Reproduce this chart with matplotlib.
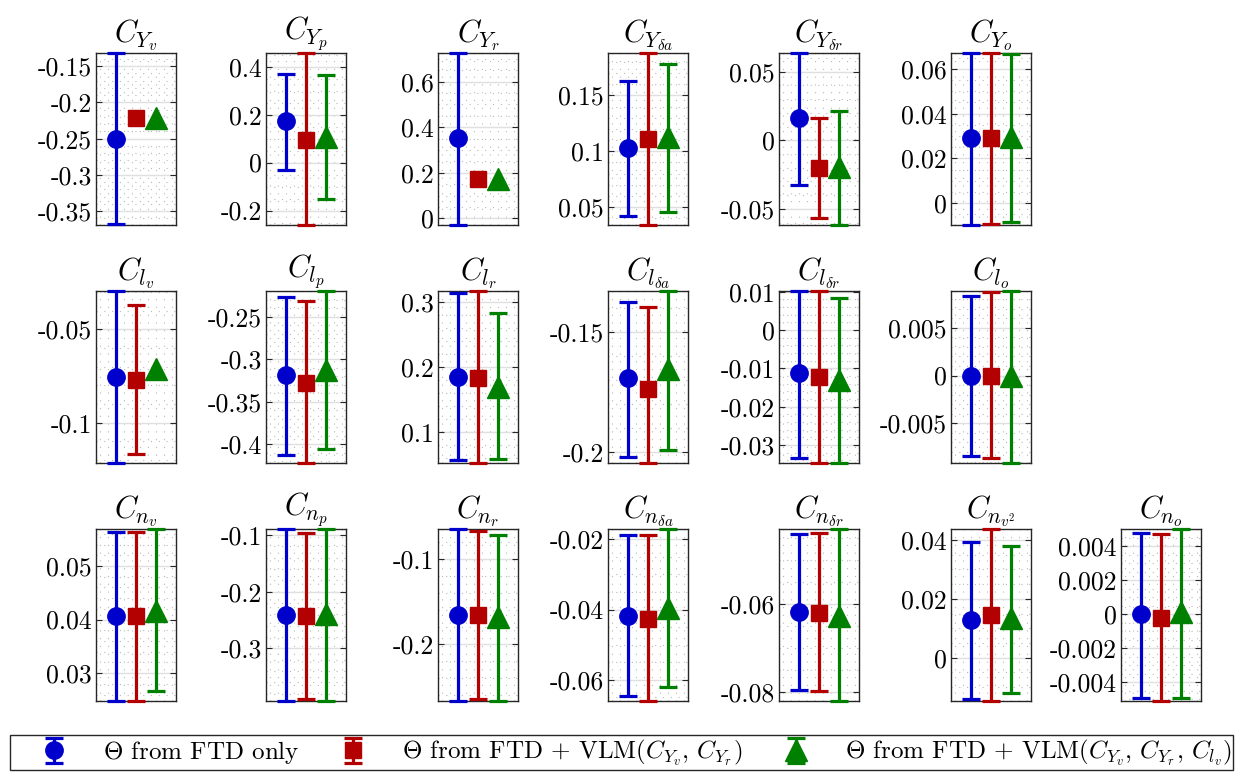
import numpy as np
import matplotlib
matplotlib.use('Agg')
import matplotlib.pyplot as plt
from matplotlib.patches import Rectangle
from matplotlib.ticker import AutoMinorLocator, FixedLocator

plt.rcParams['font.family'] = 'cmr10'
plt.rcParams['mathtext.fontset'] = 'cm'
plt.rcParams['axes.unicode_minus'] = False
plt.rcParams['axes.formatter.use_mathtext'] = True

nan = np.nan

titles = [r'$C_{Y_v}$', r'$C_{Y_p}$', r'$C_{Y_r}$', r'$C_{Y_{\delta a}}$', r'$C_{Y_{\delta r}}$', r'$C_{Y_o}$',
          r'$C_{l_v}$', r'$C_{l_p}$', r'$C_{l_r}$', r'$C_{l_{\delta a}}$', r'$C_{l_{\delta r}}$', r'$C_{l_o}$',
          r'$C_{n_v}$', r'$C_{n_p}$', r'$C_{n_r}$', r'$C_{n_{\delta a}}$', r'$C_{n_{\delta r}}$', r'$C_{n_{v^2}}$',
          r'$C_{n_o}$']

# grid slot (row, col) of each subplot
slots = [(0, 0), (0, 1), (0, 2), (0, 3), (0, 4), (0, 5),
         (1, 0), (1, 1), (1, 2), (1, 3), (1, 4), (1, 5),
         (2, 0), (2, 1), (2, 2), (2, 3), (2, 4), (2, 5), (2, 6)]

ylims = [(-0.369, -0.132), (-0.26, 0.457), (-0.029, 0.726), (0.034, 0.188), (-0.0617, 0.0636), (-0.0097, 0.0671),
         (-0.1216, -0.0295), (-0.422, -0.2198), (0.053, 0.3164), (-0.2045, -0.1328), (-0.0347, 0.0102), (-0.00915, 0.00884),
         (0.0248, 0.0569), (-0.393, -0.0894), (-0.2665, -0.0648), (-0.066, -0.0171), (-0.082, -0.0429), (-0.0147, 0.0437),
         (-0.0051, 0.0050)]

yticks = [[-0.35, -0.3, -0.25, -0.2, -0.15], [-0.2, 0, 0.2, 0.4], [0, 0.2, 0.4, 0.6], [0.05, 0.1, 0.15],
          [-0.05, 0, 0.05], [0, 0.02, 0.04, 0.06],
          [-0.1, -0.05], [-0.4, -0.35, -0.3, -0.25], [0.1, 0.2, 0.3], [-0.2, -0.15],
          [-0.03, -0.02, -0.01, 0, 0.01], [-0.005, 0, 0.005],
          [0.03, 0.04, 0.05], [-0.3, -0.2, -0.1], [-0.2, -0.1], [-0.06, -0.04, -0.02], [-0.08, -0.06],
          [0, 0.02, 0.04], [-0.004, -0.002, 0, 0.002, 0.004]]

# estimates: [FTD only, FTD + VLM(CYv, CYr), FTD + VLM(CYv, CYr, Clv)]
centers = [[-0.25, -0.222, -0.221], [0.173, 0.096, 0.107], [0.354, 0.171, 0.174], [0.103, 0.111, 0.113],
           [0.016, -0.0201, -0.0195], [0.029, 0.029, 0.0295],
           [-0.0754, -0.0772, -0.0714], [-0.3185, -0.328, -0.313], [0.1847, 0.1837, 0.17], [-0.1692, -0.1738, -0.1655],
           [-0.0113, -0.0122, -0.013], [0.0, 0.0, 0.0],
           [0.0407, 0.0406, 0.0416], [-0.2411, -0.2429, -0.2394], [-0.1657, -0.1657, -0.1676],
           [-0.0419, -0.0427, -0.0395], [-0.0617, -0.0619, -0.0627], [0.0129, 0.0146, 0.0135], [0.0, -0.0002, 0.0001]]

lowers = [[-0.368, nan, nan], [-0.03, -0.26, -0.152], [-0.029, nan, nan], [0.0425, 0.034, 0.0455],
          [-0.0325, -0.0569, -0.0617], [-0.0097, -0.0094, -0.0082],
          [-0.1216, -0.1168, nan], [-0.4126, -0.422, -0.4059], [0.0577, 0.053, 0.0591], [-0.2021, -0.2045, -0.199],
          [-0.0335, -0.0347, -0.0346], [-0.00842, -0.00864, -0.00915],
          [0.0248, 0.0248, 0.0266], [-0.393, -0.390, -0.393], [-0.2665, -0.2645, -0.2665],
          [-0.0646, -0.066, -0.0621], [-0.0796, -0.0798, -0.082], [-0.0141, -0.0146, -0.0121],
          [-0.0049, -0.0051, -0.0049]]

uppers = [[-0.132, nan, nan], [0.37, 0.457, 0.364], [0.726, nan, nan], [0.163, 0.188, 0.178],
          [0.0636, 0.0163, 0.0211], [0.067, 0.0671, 0.0666],
          [-0.0295, -0.037, nan], [-0.2272, -0.2312, -0.2198], [0.3138, 0.3164, 0.2832], [-0.1373, -0.1393, -0.1328],
          [0.0102, 0.0102, 0.0083], [0.00832, 0.0087, 0.00884],
          [0.0564, 0.0563, 0.0569], [-0.0894, -0.0959, -0.0894], [-0.0648, -0.0671, -0.0718],
          [-0.0188, -0.0188, -0.0171], [-0.044, -0.0437, -0.0429], [0.0394, 0.0437, 0.0380],
          [0.00475, 0.0047, 0.005]]

labels = [r'$\Theta$ from FTD only',
          r'$\Theta$ from FTD + VLM$(C_{Y_v},\, C_{Y_r})$',
          r'$\Theta$ from FTD + VLM$(C_{Y_v},\, C_{Y_r},\, C_{l_v})$']
colors = ['#0000cc', '#b30000', '#008000']
markers = ['o', 's', '^']
msizes = [12.5, 11.5, 15.5]

W, H = 1235, 772
col_left = [96, 266, 438, 608, 779, 951, 1121]
row_top = [53, 291, 529]
ax_w, ax_h = 80, 172

fig = plt.figure(figsize=(W / 100, H / 100), dpi=100)

handles = None
for i in range(len(titles)):
    r, c = slots[i]
    ax = fig.add_axes([col_left[c] / W, 1 - (row_top[r] + ax_h) / H, ax_w / W, ax_h / H])
    hs = []
    for k in range(3):
        y = centers[i][k]
        lo, up = lowers[i][k], uppers[i][k]
        x = k + 1
        if np.isnan(lo):
            h = ax.plot(x, y, marker=markers[k], color=colors[k], ms=msizes[k], ls='none',
                        zorder=3, clip_on=False)[0]
        else:
            h = ax.errorbar(x, y, yerr=[[y - lo], [up - y]], fmt=markers[k], color=colors[k],
                            ms=msizes[k], elinewidth=2.3, capsize=6.5, capthick=2.3, zorder=3)
            for a in h.lines[1] + h.lines[2]:
                a.set_clip_on(False)
            h.lines[0].set_clip_on(False)
        hs.append(h)
    if i == 5:
        handles = hs
    ax.set_xlim(0, 4)
    ax.set_ylim(ylims[i])
    ax.set_xticks([])
    ax.xaxis.set_minor_locator(FixedLocator(np.arange(0.2, 4.0, 0.4)))
    ax.set_yticks(yticks[i])
    ax.set_yticklabels([f'{t:g}' for t in yticks[i]])
    ax.yaxis.set_minor_locator(AutoMinorLocator())
    ax.tick_params(axis='y', which='major', direction='in', left=True, right=True, length=4,
                   width=0.8, color='#262626', labelsize=18.5, pad=3)
    ax.tick_params(axis='both', which='minor', length=0)
    ax.grid(True, which='major', axis='y', color='#e0e0e0', lw=1.0, zorder=0)
    ax.grid(True, which='minor', axis='both', color='#b8b8b8', lw=0.8, ls=(0, (1, 6)), zorder=0)
    ax.set_axisbelow(True)
    for s in ax.spines.values():
        s.set_color('#262626')
        s.set_linewidth(1.0)
    ax.set_title(titles[i], fontsize=22, pad=4)

# legend box drawn separately so the entries can sit inside it freely
fig.patches.append(Rectangle((10 / W, 1 - 770 / H), 1223 / W, 35 / H, transform=fig.transFigure,
                             fill=False, edgecolor='#262626', lw=1.0))
leg = fig.legend(handles, labels, loc='center left', ncol=3, mode='expand',
                 bbox_to_anchor=(38 / W, 1 - 753 / H, 1194 / W, 0), borderaxespad=0, borderpad=0,
                 fontsize=18, frameon=False, handlelength=1.3, handletextpad=1.3)

fig.savefig('out.png', dpi=100)
